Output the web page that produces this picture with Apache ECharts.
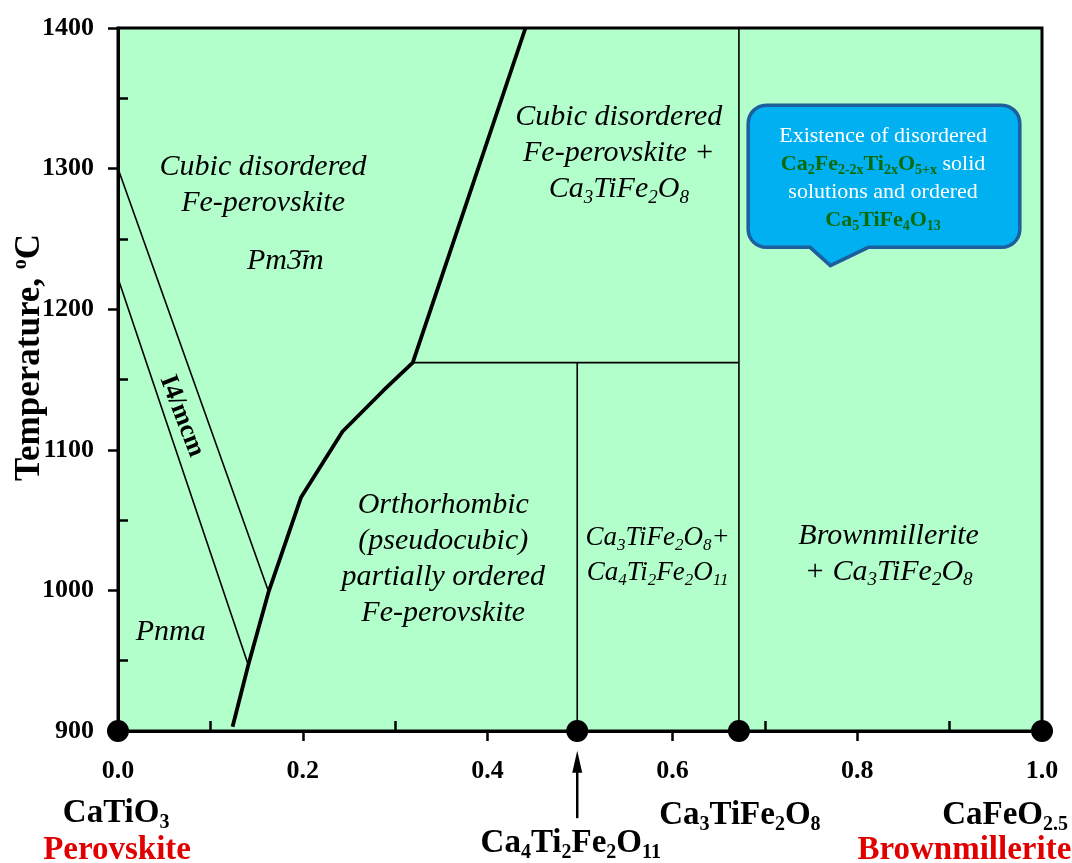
<!DOCTYPE html>
<html><head><meta charset="utf-8">
<script src="https://cdn.jsdelivr.net/npm/echarts@6/dist/echarts.min.js"></script>
<style>html,body{margin:0;padding:0;background:#fff}#c{width:1072px;height:863px}</style>
</head><body><div id="c"></div>
<script>
// ---- data ----
const xTickValues = [0, 0.2, 0.4, 0.6, 0.8, 1.0];
const xMinorTicks = [0.1, 0.3, 0.5, 0.7, 0.9];
const yTickValues = [900, 1000, 1100, 1200, 1300, 1400];
const yMinorTicks = [950, 1050, 1150, 1250, 1350];
const thickBoundary = [[0.124, 903], [0.141, 947], [0.163, 999], [0.198, 1066], [0.243, 1113], [0.287, 1142], [0.319, 1162], [0.441, 1400]];
const upperI4mcm = [[0, 1300], [0.163, 999]];
const lowerI4mcm = [[0, 1222], [0.141, 947]];
const tieLine1160 = [[0.319, 1162], [0.672, 1162]];
const verticalCa4 = [[0.497, 900], [0.497, 1162]];
const verticalCa3 = [[0.672, 900], [0.672, 1400]];
const compositions = [[0, 900], [0.497, 900], [0.672, 900], [1, 900]];

// ---- annotation layout ----
const FONT = '"Liberation Serif","Times New Roman",serif';
function rich(size, o) {
  o = Object.assign({weight: 'normal', style: 'normal', color: '#000', lh: Math.round(size * 1.25)}, o || {});
  const base = {fontFamily: FONT, fontSize: size, fontWeight: o.weight, fontStyle: o.style, color: o.color, lineHeight: o.lh, align: 'center'};
  const sub = Object.assign({}, base, {fontSize: Math.round(size * 0.62), padding: [Math.round(size * 0.55), 0, 0, 0]});
  return {n: base, s: sub};
}
const itBig = rich(30, {style: 'italic', lh: 36});
const itMid = rich(27, {style: 'italic', lh: 35});
const boldBig = rich(33, {weight: 'bold'});
const redBig = rich(33, {weight: 'bold', color: '#e00000'});
const wStyle = rich(22, {color: '#ffffff', lh: 28});
const gStyle = rich(22, {color: '#0a6b0a', weight: 'bold', lh: 28});
const calloutRich = {w: wStyle.n, g: gStyle.n, gs: gStyle.s};

const annotations = [
  {at: [0.157, 1288], text: '{n|Cubic disordered}\n{n|Fe-perovskite}', rich: itBig},
  {at: [0.181, 1234], text: '{n|Pm3\u0304m}', rich: itBig},
  {at: [0.069, 1124], text: '{n|I4/mcm}', rich: rich(26, {weight: 'bold'}), rotate: -69},
  {at: [0.057, 970], text: '{n|Pnma}', rich: itBig},
  {at: [0.352, 1022], text: '{n|Orthorhombic}\n{n|(pseudocubic)}\n{n|partially ordered}\n{n|Fe-perovskite}', rich: itBig},
  {at: [0.542, 1311], text: '{n|Cubic disordered}\n{n|Fe-perovskite +}\n{n|Ca}{s|3}{n|TiFe}{s|2}{n|O}{s|8}', rich: itBig},
  {at: [0.584, 1025], text: '{n|Ca}{s|3}{n|TiFe}{s|2}{n|O}{s|8}{n|+}\n{n|Ca}{s|4}{n|Ti}{s|2}{n|Fe}{s|2}{n|O}{s|11}', rich: itMid},
  {at: [0.834, 1026], text: '{n|Brownmillerite}\n{n|+ Ca}{s|3}{n|TiFe}{s|2}{n|O}{s|8}', rich: itBig},
  {at: [-0.002, 841], text: '{n|CaTiO}{s|3}', rich: boldBig},
  {at: [-0.001, 815], text: '{n|Perovskite}', rich: redBig},
  {at: [0.49, 820], text: '{n|Ca}{s|4}{n|Ti}{s|2}{n|Fe}{s|2}{n|O}{s|11}', rich: boldBig},
  {at: [0.673, 840], text: '{n|Ca}{s|3}{n|TiFe}{s|2}{n|O}{s|8}', rich: boldBig},
  {at: [0.96, 840], text: '{n|CaFeO}{s|2.5}', rich: boldBig},
  {at: [0.916, 815], text: '{n|Brownmillerite}', rich: redBig},
  {at: [0.828, 1293], text: '{w|Existence of disordered}\n{g|Ca}{gs|2}{g|Fe}{gs|2-2x}{g|Ti}{gs|2x}{g|O}{gs|5+x}{w| solid}\n{w|solutions and ordered}\n{g|Ca}{gs|5}{g|TiFe}{gs|4}{g|O}{gs|13}', rich: calloutRich}
];
const callout = {x0: 0.682, x1: 0.976, yTop: 1345, yBottom: 1244, tailLeft: 0.749, tailRight: 0.812, tipX: 0.771, tipY: 1231};
const arrow = {x: 0.497, from: 838, to: 886};

function arcPts(cx, cy, r, a0, a1) {
  const out = [];
  for (let i = 0; i <= 8; i++) {
    const a = (a0 + (a1 - a0) * i / 8) * Math.PI / 180;
    out.push([cx + r * Math.cos(a), cy + r * Math.sin(a)]);
  }
  return out;
}

const chart = echarts.init(document.getElementById('c'));
function lineSeries(data, width) {
  return {type: 'line', data: data, symbol: 'none', silent: true, z: 3,
    lineStyle: {color: '#000', width: width}};
}
chart.setOption({
  animation: false,
  grid: {left: 118, right: 30, top: 28, bottom: 132, outerBoundsMode: 'none', containLabel: false,
    show: true, backgroundColor: '#b3ffcc', borderColor: '#000', borderWidth: 3},
  xAxis: [
    {type: 'value', min: 0, max: 1, interval: 0.2, position: 'bottom',
      axisLine: {show: true, onZero: false, lineStyle: {color: '#000', width: 3}},
      axisTick: {show: true, inside: false, length: 10, lineStyle: {color: '#000', width: 2.5}},
      axisLabel: {margin: 27, fontFamily: FONT, fontWeight: 'bold', fontSize: 26, color: '#000',
        formatter: v => v.toFixed(1)},
      splitLine: {show: false}},
    {type: 'value', min: 0, max: 1, position: 'bottom',
      axisLine: {show: false},
      axisTick: {show: true, inside: true, length: 10, customValues: xMinorTicks, lineStyle: {color: '#000', width: 2.5}},
      axisLabel: {show: false}, splitLine: {show: false}}
  ],
  yAxis: [
    {type: 'value', min: 900, max: 1400, interval: 100,
      axisLine: {show: true, onZero: false, lineStyle: {color: '#000', width: 3}},
      axisTick: {show: true, inside: false, length: 10, lineStyle: {color: '#000', width: 2.5}},
      axisLabel: {margin: 24, fontFamily: FONT, fontWeight: 'bold', fontSize: 26, color: '#000',
        formatter: v => String(v)},
      splitLine: {show: false},
      name: '{b|Temperature, }{p|o}{b|C}', nameLocation: 'middle', nameGap: 70, nameRotate: 90,
      nameMoveOverlap: false,
      nameTextStyle: {padding: [0, 0, 0, 44], rich: {
        b: {fontFamily: FONT, fontWeight: 'bold', fontSize: 35, color: '#000'},
        p: {fontFamily: FONT, fontWeight: 'bold', fontSize: 20, color: '#000', padding: [0, 0, 17, 0]}
      }}},
    {type: 'value', min: 900, max: 1400, position: 'left',
      axisLine: {show: false},
      axisTick: {show: true, inside: true, length: 10, customValues: yMinorTicks, lineStyle: {color: '#000', width: 2.5}},
      axisLabel: {show: false}, splitLine: {show: false}}
  ],
  series: [
    lineSeries(upperI4mcm, 1.6),
    lineSeries(lowerI4mcm, 1.6),
    lineSeries(tieLine1160, 1.6),
    lineSeries(verticalCa4, 1.6),
    lineSeries(verticalCa3, 1.6),
    lineSeries(thickBoundary, 3.8),
    {type: 'custom', coordinateSystem: 'cartesian2d', z: 4, silent: true, clip: false,
      data: [[callout.x0, callout.yTop]],
      renderItem: function (params, api) {
        const tl = api.coord([callout.x0, callout.yTop]);
        const br = api.coord([callout.x1, callout.yBottom]);
        const tL = api.coord([callout.tailLeft, callout.yBottom])[0];
        const tR = api.coord([callout.tailRight, callout.yBottom])[0];
        const tip = api.coord([callout.tipX, callout.tipY]);
        const r = 18, x0 = tl[0], y0 = tl[1], x1 = br[0], y1 = br[1];
        let pts = [];
        pts = pts.concat(arcPts(x0 + r, y0 + r, r, 180, 270));
        pts = pts.concat(arcPts(x1 - r, y0 + r, r, 270, 360));
        pts = pts.concat(arcPts(x1 - r, y1 - r, r, 0, 90));
        pts.push([tR, y1], tip, [tL, y1]);
        pts = pts.concat(arcPts(x0 + r, y1 - r, r, 90, 180));
        return {type: 'polygon', shape: {points: pts},
          style: {fill: '#00b0f0', stroke: '#1d5f9c', lineWidth: 3.5}};
      }},
    {type: 'custom', coordinateSystem: 'cartesian2d', z: 4, silent: true, clip: false,
      data: [[arrow.x, arrow.from]],
      renderItem: function (params, api) {
        const a = api.coord([arrow.x, arrow.from]);
        const b = api.coord([arrow.x, arrow.to]);
        return {type: 'group', children: [
          {type: 'line', shape: {x1: a[0], y1: a[1], x2: b[0], y2: b[1] + 18}, style: {stroke: '#000', lineWidth: 2.5}},
          {type: 'polygon', shape: {points: [[b[0], b[1]], [b[0] - 5, b[1] + 22], [b[0] + 5, b[1] + 22]]}, style: {fill: '#000'}}
        ]};
      }},
    {type: 'scatter', data: compositions, symbol: 'circle', symbolSize: 22, clip: false, silent: true, z: 6,
      itemStyle: {color: '#000', opacity: 1}},
    {type: 'scatter', clip: false, silent: true, z: 7, symbolSize: 1, itemStyle: {color: 'rgba(0,0,0,0)', opacity: 1},
      data: annotations.map(a => ({value: a.at,
        label: {show: true, position: 'inside', formatter: a.text, rich: a.rich, rotate: a.rotate || 0,
          opacity: 1, align: 'center', verticalAlign: 'middle'}}))}
  ]
});
</script></body></html>
